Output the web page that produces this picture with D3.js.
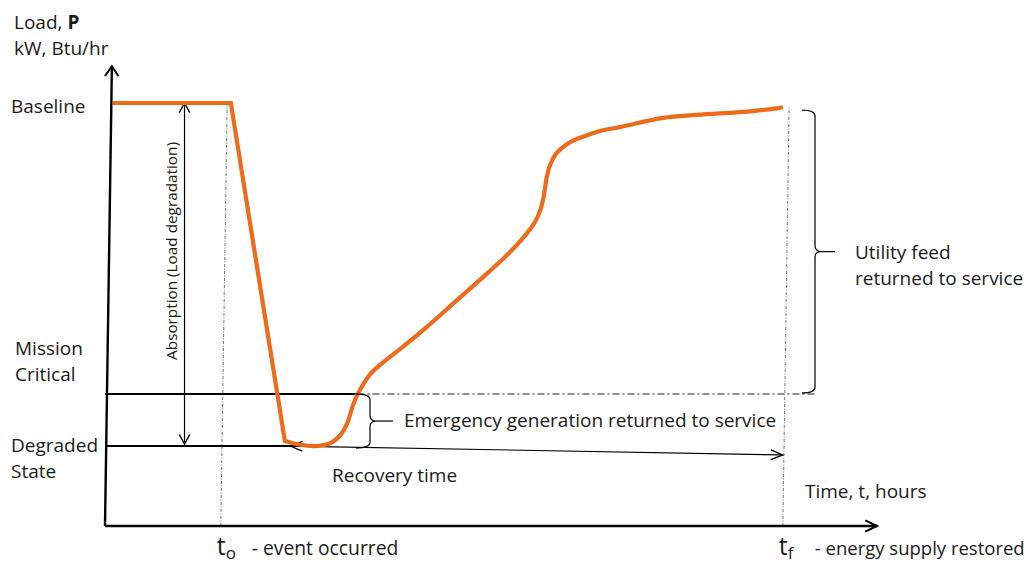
<!DOCTYPE html>
<html>
<head>
<meta charset="utf-8">
<script src="https://cdn.jsdelivr.net/npm/d3@7"></script>
<style>
  html, body { margin: 0; padding: 0; background: #fff; }
  svg { display: block; }
  text { font-family: "Open Sans", "Noto Sans", sans-serif; fill: #1a1a1a; }
</style>
</head>
<body>
<svg id="chart" width="1029" height="564"></svg>
<script>
// ---- data (time in arbitrary units 0..100, load in % of baseline) ----
const curveTime = [1.0, 16.3, 23.3, 25.3, 27.2, 29.2, 30.4, 31.4, 32.0, 32.6, 33.55, 34.6, 36.1, 38.2, 41.2, 45.6, 49.0, 52.1, 54.7, 55.7, 56.35, 56.74, 57.0, 57.25, 57.64, 58.3, 59.2, 60.5, 62.2, 64.1, 66.7, 72.3, 76.7, 83.9, 87.8];
const curveLoad = [100, 100, 20.1, 19.2, 18.9, 19.6, 21.3, 24.4, 27.9, 30.7, 33.8, 36.4, 38.8, 41.8, 46.3, 53.4, 58.9, 64.1, 69.3, 71.9, 74.5, 77.1, 79.9, 82.7, 85.3, 87.7, 89.4, 91.0, 92.2, 93.4, 94.3, 96.5, 97.2, 98.1, 99.0];
const levelLabels = [["Baseline"], ["Mission", "Critical"], ["Degraded", "State"]];
const levelValues = [100, 31.2, 18.9];
const eventTimes = [15.0, 87.8];
const eventLabels = [["t", "o", "- event occurred"], ["t", "f", "- energy supply restored"]];
const yAxisTitle = ["Load, ", "P", "kW, Btu/hr"];
const xAxisTitle = "Time, t, hours";
const absorptionLabel = "Absorption (Load degradation)";
const recoveryLabel = "Recovery time";
const recoveryStart = [24.0, 18.9];
const recoveryEndLoad = 16.8;
const emergencyLabel = "Emergency generation returned to service";
const utilityLabel = ["Utility feed", "returned to service"];
const utilityTopLoad = 98.3;
const absorptionTime = 10.3;

// ---- scales ----
const x = d3.scaleLinear().domain([0, 100]).range([105, 877]);
const y = d3.scaleLinear().domain([0, 100]).range([526, 103]);
const skew = 0.015;
const sx = (t, l) => x(t) + (y(0) - y(l)) * skew;

const svg = d3.select("#chart");
const ORANGE = "#f06a1c";

function chevron(tipX, tipY, angle, len, spread, width, color) {
  const a1 = angle + Math.PI - spread, a2 = angle + Math.PI + spread;
  return svg.append("path")
    .attr("d", `M${tipX + len * Math.cos(a1)},${tipY + len * Math.sin(a1)} L${tipX},${tipY} L${tipX + len * Math.cos(a2)},${tipY + len * Math.sin(a2)}`)
    .attr("fill", "none").attr("stroke", color || "#000").attr("stroke-width", width);
}

// ---- dotted event verticals ----
eventTimes.forEach((t, i) => {
  const topLoad = i === 0 ? 100 : 99.0;
  svg.append("line")
    .attr("x1", sx(t, 0)).attr("y1", y(0))
    .attr("x2", sx(t, topLoad)).attr("y2", y(topLoad))
    .attr("stroke", "#777").attr("stroke-width", 1)
    .attr("stroke-dasharray", "3,1.5,1,1.5");
});

// ---- level lines ----
svg.append("line").attr("x1", x(0)).attr("x2", x(32.7))
  .attr("y1", y(levelValues[1])).attr("y2", y(levelValues[1]))
  .attr("stroke", "#000").attr("stroke-width", 2);
svg.append("line").attr("x1", x(32.7)).attr("x2", x(92.2))
  .attr("y1", y(levelValues[1])).attr("y2", y(levelValues[1]))
  .attr("stroke", "#222").attr("stroke-width", 1.2)
  .attr("stroke-dasharray", "7,3,2,3");
svg.append("line").attr("x1", x(0)).attr("x2", x(28))
  .attr("y1", y(levelValues[2])).attr("y2", y(levelValues[2]))
  .attr("stroke", "#000").attr("stroke-width", 2);

// ---- recovery arrow (double headed) ----
{
  const x1 = x(recoveryStart[0]), y1 = y(recoveryStart[1]);
  const x2 = x(eventTimes[1]), y2 = y(recoveryEndLoad);
  svg.append("line").attr("x1", x1).attr("y1", y1).attr("x2", x2).attr("y2", y2)
    .attr("stroke", "#000").attr("stroke-width", 1.2);
  const ang = Math.atan2(y2 - y1, x2 - x1);
  chevron(x2, y2, ang, 13, 0.38, 1.3);
  chevron(x1, y1, ang + Math.PI, 13, 0.38, 1.3);
}

// ---- absorption arrow ----
{
  const ax = x(absorptionTime);
  const y1 = y(levelValues[0]), y2 = y(levelValues[2]) - 2;
  svg.append("line").attr("x1", ax).attr("x2", ax).attr("y1", y1).attr("y2", y2)
    .attr("stroke", "#000").attr("stroke-width", 1.2);
  chevron(ax, y1, -Math.PI / 2, 11, 0.5, 1.3);
  chevron(ax, y2, Math.PI / 2, 11, 0.5, 1.3);
  svg.append("text")
    .attr("transform", `translate(${ax - 8},251) rotate(-90)`)
    .attr("text-anchor", "middle").attr("font-size", 15.3)
    .text(absorptionLabel);
}

// ---- load curve ----
const pts = curveTime.map((t, i) => [x(t), y(curveLoad[i])]);
svg.append("path")
  .attr("d", d3.line().curve(d3.curveLinear)(pts.slice(0, 3)) + d3.line().curve(d3.curveCatmullRom.alpha(0.5))(pts.slice(2)).replace(/^M/, "L"))
  .attr("fill", "none").attr("stroke", ORANGE).attr("stroke-width", 4.2)
  .attr("stroke-linejoin", "miter");

// ---- axes ----
svg.append("line").attr("x1", sx(0, 0)).attr("y1", y(0)).attr("x2", sx(0, 108.7)).attr("y2", y(108.7))
  .attr("stroke", "#000").attr("stroke-width", 2.4);
chevron(sx(0, 108.7), y(108.7), Math.atan2(y(108.7) - y(0), sx(0, 108.7) - sx(0, 0)), 12, 0.6, 2);
svg.append("line").attr("x1", x(0)).attr("y1", y(0)).attr("x2", x(100)).attr("y2", y(0))
  .attr("stroke", "#000").attr("stroke-width", 2.4);
chevron(x(100), y(0), 0, 13, 0.45, 2);

// ---- braces ----
function brace(xLeft, yTop, yBot, depth, tipLen) {
  const spine = xLeft + depth, r = 6, mid = (yTop + yBot) / 2, tip = spine + 6;
  svg.append("path")
    .attr("d", `M${xLeft},${yTop} Q${spine},${yTop} ${spine},${yTop + r} L${spine},${mid - r} Q${spine},${mid} ${tip},${mid} Q${spine},${mid} ${spine},${mid + r} L${spine},${yBot - r} Q${spine},${yBot} ${xLeft},${yBot}`)
    .attr("fill", "none").attr("stroke", "#111").attr("stroke-width", 1.3);
  svg.append("line").attr("x1", tip).attr("x2", tip + tipLen).attr("y1", mid).attr("y2", mid)
    .attr("stroke", "#111").attr("stroke-width", 1.3);
  return [tip + tipLen, mid];
}
const [ux, uy] = brace(802, y(utilityTopLoad), y(levelValues[1]) - 1, 13, 14);
const [ex, ey] = brace(356, y(levelValues[1]), y(levelValues[2]) + 2, 14, 17);

const FS = 19;
svg.append("text").attr("x", ux + 20).attr("y", uy + 7).attr("font-size", FS).text(utilityLabel[0]);
svg.append("text").attr("x", ux + 20).attr("y", uy + 33).attr("font-size", FS).text(utilityLabel[1]);
svg.append("text").attr("x", ex + 11).attr("y", ey + 6).attr("font-size", FS).text(emergencyLabel);
svg.append("text").attr("x", 332).attr("y", 482).attr("font-size", FS).text(recoveryLabel);
svg.append("text").attr("x", 805).attr("y", 498).attr("font-size", FS).text(xAxisTitle);

// ---- y axis title ----
const t1 = svg.append("text").attr("x", 14).attr("y", 29).attr("font-size", FS);
t1.append("tspan").text(yAxisTitle[0]);
t1.append("tspan").attr("font-weight", "bold").text(yAxisTitle[1]);
svg.append("text").attr("x", 14).attr("y", 55).attr("font-size", FS).text(yAxisTitle[2]);

// ---- level labels ----
const labelOffsets = [[113], [355, 381], [452, 478]];
levelLabels.forEach((lines, i) => {
  lines.forEach((s, j) => {
    svg.append("text").attr("x", i === 1 ? 15 : 11).attr("y", labelOffsets[i][j])
      .attr("font-size", FS).text(s);
  });
});

// ---- event labels under x axis ----
eventTimes.forEach((t, i) => {
  const [main, sub, rest] = eventLabels[i];
  const px = x(t) - 4;
  const tx = svg.append("text").attr("x", px).attr("y", 555).attr("font-size", 25);
  tx.append("tspan").text(main);
  tx.append("tspan").attr("font-size", 17).attr("dy", 4).text(sub);
  svg.append("text").attr("x", px + (i === 0 ? 35 : 36)).attr("y", 555)
    .attr("font-size", i === 0 ? 19.3 : 18.5).text(rest);
});
</script>
</body>
</html>
